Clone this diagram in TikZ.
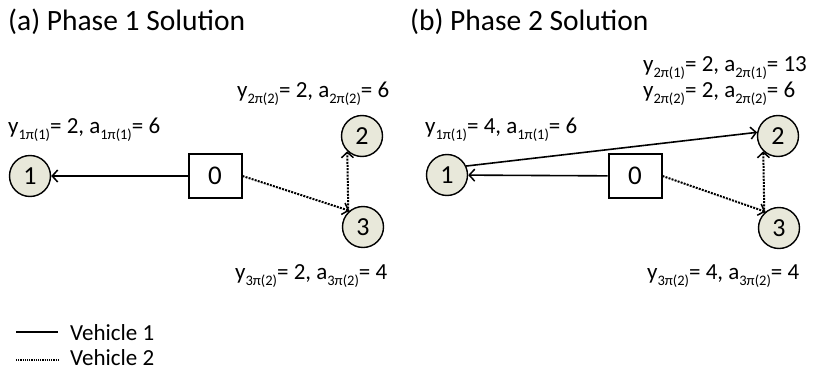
\documentclass[tikz,border=0pt]{standalone}
\usepackage{fontspec}
\setmainfont{Carlito}
\usetikzlibrary{arrows.meta}
\newcommand{\sbs}[1]{\raisebox{-0.28em}{\fontsize{14.5}{15}\selectfont #1}}
\definecolor{nodefill}{HTML}{E8E8DA}
\tikzset{
  cnode/.style={circle,draw=black,line width=1.4pt,fill=nodefill,minimum size=41pt,inner sep=0pt,font=\fontsize{26}{28}\selectfont},
  depot/.style={rectangle,draw=black,line width=2pt,fill=white,minimum width=53pt,minimum height=44pt,inner sep=0pt,font=\fontsize{27}{29}\selectfont},
  lbl/.style={inner sep=0pt,font=\fontsize{23}{26}\selectfont},
  ttl/.style={inner sep=0pt,font=\fontsize{29.5}{32}\selectfont},
  veh1/.style={line width=1.6pt,-{Straight Barb[length=5.5pt,width=12pt,line width=1.5pt]}},
  veh2/.style={line width=2pt,dash pattern=on 2pt off 1.2pt,-{Straight Barb[length=5.5pt,width=12pt,line width=1.5pt]}},
}
\begin{document}
\begin{tikzpicture}[x=1pt,y=-1pt]
\useasboundingbox (0,0) rectangle (813,372);
% titles
\node[ttl,anchor=base west] (ta) at (8,30) {(a) Phase 1 Solution};
\node[ttl,anchor=base west] (tb) at (410,30) {(b) Phase 2 Solution};
% panel a
\node[cnode] (a1) at (30,176) {1};
\node[depot] (a0) at (215,176) {0};
\node[cnode] (a2) at (362,136) {2};
\node[cnode] (a3) at (363,227) {3};
\draw[veh1] (a0) -- (a1);
\draw[veh2] (a0.east) -- (a3.130);
\draw[veh2] (a3.134) -- (a2.226);
\node[lbl,anchor=base west] (la1) at (8,133) {y\sbs{1π(1)}= 2, a\sbs{1π(1)}= 6};
\node[lbl,anchor=base west] (la2) at (237,97) {y\sbs{2π(2)}= 2, a\sbs{2π(2)}= 6};
\node[lbl,anchor=base west] (la3) at (235,279) {y\sbs{3π(2)}= 2, a\sbs{3π(2)}= 4};
% panel b
\node[cnode] (b1) at (447,175) {1};
\node[depot] (b0) at (635,176) {0};
\node[cnode] (b2) at (778,136) {2};
\node[cnode] (b3) at (779,228) {3};
\draw[veh1] (b0) -- (b1);
\draw[veh1] (b1.25) -- (b2.170);
\draw[veh2] (b0.east) -- (b3.130);
\draw[veh2] (b3.134) -- (b2.226);
\node[lbl,anchor=base west] (lb1) at (425,133) {y\sbs{1π(1)}= 4, a\sbs{1π(1)}= 6};
\node[lbl,anchor=base west] (lb2a) at (643,71) {y\sbs{2π(1)}= 2, a\sbs{2π(1)}= 13};
\node[lbl,anchor=base west] (lb2b) at (643,97) {y\sbs{2π(2)}= 2, a\sbs{2π(2)}= 6};
\node[lbl,anchor=base west] (lb3) at (647,279) {y\sbs{3π(2)}= 4, a\sbs{3π(2)}= 4};
% legend
\coordinate (l1s) at (16,332);
\coordinate (l1e) at (58,332);
\coordinate (l2s) at (16,360);
\coordinate (l2e) at (58,360);
\draw[line width=2pt] (l1s) -- (l1e);
\draw[line width=1.6pt,dash pattern=on 1.2pt off 1pt] (l2s) -- (l2e);
\node[lbl,anchor=base west] (v1) at (70,340) {Vehicle 1};
\node[lbl,anchor=base west] (v2) at (70,365) {Vehicle 2};
\end{tikzpicture}
\end{document}
